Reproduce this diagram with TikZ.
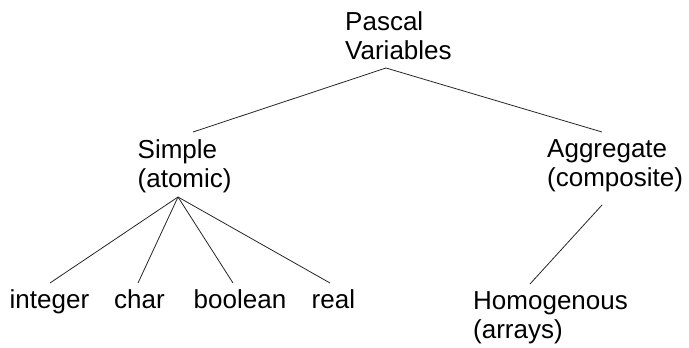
\documentclass[tikz,border=0pt]{standalone}
\usepackage{fontspec}
\setmainfont{Liberation Sans}
\usetikzlibrary{calc}
\tikzset{
  vartext/.style={anchor=base west, inner sep=0pt, align=left,
    font=\fontsize{26}{29}\selectfont},
  branch/.style={line width=0.8pt, black!85}
}

\begin{document}
\begin{tikzpicture}[x=1pt,y=1pt]
\useasboundingbox (0,0) rectangle (689,348);

% Root
\node[vartext] (root) at (345,288) {Pascal\\Variables};
\coordinate (rootfoot) at (386,280);

% Second level
\node[vartext] (simple) at (137.5,160) {Simple\\(atomic)};
\node[vartext] (aggregate) at (547,161) {Aggregate\\(composite)};
\coordinate (simplehead) at (193,216);
\coordinate (aggregatehead) at (602,216);
\coordinate (simplefoot) at (178,151);
\coordinate (aggregatefoot) at (602,143);

% Leaves
\node[vartext] (integer) at (9.5,39) {integer};
\node[vartext] (char) at (114,39) {char};
\node[vartext] (boolean) at (193.5,39) {boolean};
\node[vartext] (real) at (311.5,39) {real};
\node[vartext] (homogenous) at (473,9) {Homogenous\\(arrays)};
\coordinate (integerhead) at (50,65);
\coordinate (charhead) at (138,65);
\coordinate (booleanhead) at (233,65);
\coordinate (realhead) at (330,65);
\coordinate (homogenoushead) at (530,64);

% Branches
\draw[branch] (simplehead) -- (rootfoot) -- (aggregatehead);
\foreach \leaf in {integer,char,boolean,real} {
    \draw[branch] (simplefoot) -- (\leaf head);
}
\draw[branch] (aggregatefoot) -- (homogenoushead);
\end{tikzpicture}
\end{document}
